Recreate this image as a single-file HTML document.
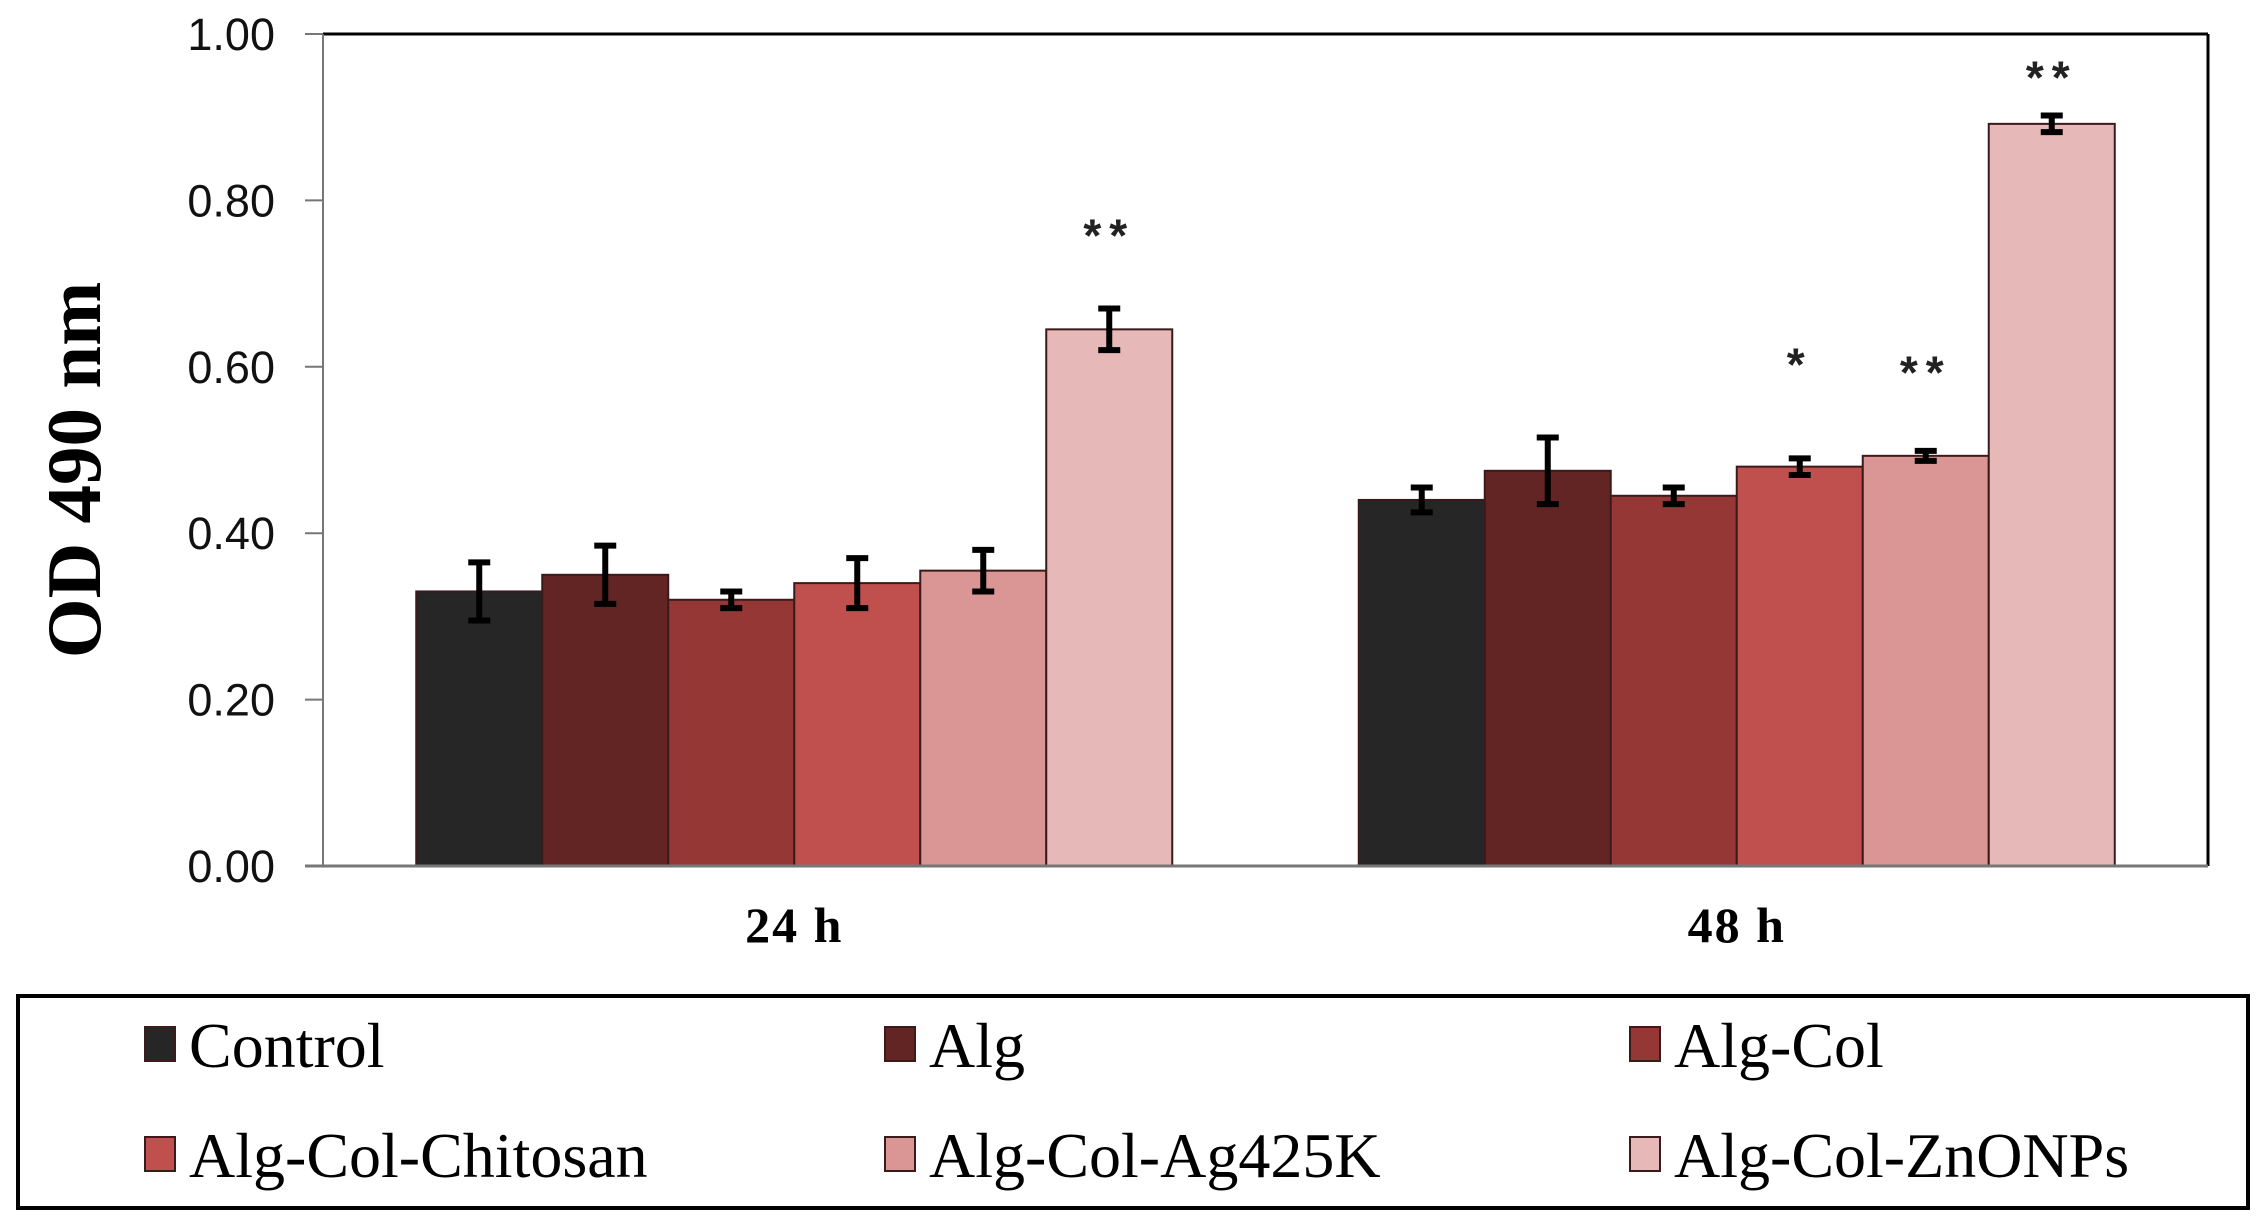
<!DOCTYPE html>
<html><head><meta charset="utf-8"><style>
html,body{margin:0;padding:0;background:#fff;}
svg{display:block;}
</style></head><body>
<svg id="chart" width="2267" height="1230" viewBox="0 0 2267 1230" xmlns="http://www.w3.org/2000/svg">
<g id="plot"></g>
</svg>
<script>
const categories = ["24 h", "48 h"];
const seriesNames = ["Control", "Alg", "Alg-Col", "Alg-Col-Chitosan", "Alg-Col-Ag425K", "Alg-Col-ZnONPs"];
const values24 = [0.33, 0.35, 0.32, 0.34, 0.355, 0.645];
const values48 = [0.44, 0.475, 0.445, 0.48, 0.493, 0.892];
const errors24 = [0.035, 0.035, 0.01, 0.03, 0.025, 0.025];
const errors48 = [0.015, 0.04, 0.01, 0.01, 0.006, 0.01];
const stars24 = ["", "", "", "", "", "**"];
const stars48 = ["", "", "", "*", "**", "**"];
const starLevel24 = [0, 0, 0, 0, 0, 0.77];
const starLevel48 = [0, 0, 0, 0.615, 0.605, 0.96];
const yTicks = [0, 0.2, 0.4, 0.6, 0.8, 1.0];
const yTickLabels = ["0.00", "0.20", "0.40", "0.60", "0.80", "1.00"];
const colors = ["#262626", "#632523", "#953735", "#c0504d", "#d99694", "#e6b9b8"];

const NS = "http://www.w3.org/2000/svg";
const svg = document.getElementById("plot");
const L = 323, R = 2208, T = 34, B = 866;
function y(v){ return B - v / 1.0 * (B - T); }
const catW = (R - L) / categories.length;
const barW = 126;
function x(ci, si){ return L + catW * ci + (catW - barW * 6) / 2 + si * barW; }
function el(tag, attrs, text){
  const e = document.createElementNS(NS, tag);
  for (const k in attrs) e.setAttribute(k, attrs[k]);
  if (text !== undefined) e.textContent = text;
  svg.appendChild(e);
  return e;
}
let e;
e = el("line", {x1:L, y1:T, x2:R, y2:T, stroke:"#000", "stroke-width":3});


e = el("line", {x1:R, y1:T, x2:R, y2:B, stroke:"#000", "stroke-width":3});


e = el("line", {x1:L, y1:T, x2:L, y2:B, stroke:"#777", "stroke-width":2});


yTicks.forEach((t, i) => {
  const tk = el("line", {x1:L-18, y1:y(t), x2:L, y2:y(t), stroke:"#777", "stroke-width":2});
  
  
  const lb = el("text", {x:275, y:y(t)+16, "text-anchor":"end", "font-family":"Liberation Sans, sans-serif", "font-size":45, fill:"#111"}, yTickLabels[i]);
  
  
});
const allVals = [values24, values48], allErr = [errors24, errors48], allStars = [stars24, stars48], allStarLv = [starLevel24, starLevel48];
categories.forEach((c, ci) => {
  seriesNames.forEach((s, si) => {
    const v = allVals[ci][si], er = allErr[ci][si];
    const bx = x(ci, si);
    const r = el("rect", {x:bx, y:y(v), width:barW, height:B - y(v), fill:colors[si], stroke:"#3a1a1a", "stroke-width":2});
    
    
    const cx = bx + barW / 2;
    const eb = el("path", {d:`M${cx},${y(v+er)}V${y(v-er)}M${cx-11},${y(v+er)}H${cx+11}M${cx-11},${y(v-er)}H${cx+11}`, stroke:"#000", "stroke-width":6, fill:"none"});
    
    
    if (allStars[ci][si]) {
      const st = el("text", {x:cx, y:y(allStarLv[ci][si]) + 26, "text-anchor":"middle", "font-family":"Liberation Sans, sans-serif", "font-weight":"bold", "font-size":46, "letter-spacing":"8", fill:"#222"}, allStars[ci][si]);
      
      
    }
  });
  const cl = el("text", {x:L + catW * ci + catW / 2, y:942, "text-anchor":"middle", "font-family":"Liberation Serif, serif", "font-weight":"bold", "font-size":50, "letter-spacing":"2", fill:"#000"}, c);
  
  
});
e = el("line", {x1:L-18, y1:B, x2:R, y2:B, stroke:"#777", "stroke-width":3});


e = el("text", {x:0, y:0, transform:"translate(100,470) rotate(-90)", "text-anchor":"middle", "font-family":"Liberation Serif, serif", "font-weight":"bold", "font-size":77, fill:"#000"}, "OD 490 nm");


e = el("rect", {x:18, y:996, width:2230, height:212, fill:"#fff", stroke:"#000", "stroke-width":4});


const legX = [145, 885, 1630], legY = [1045, 1155];
seriesNames.forEach((s, i) => {
  const lx = legX[i % 3], ly = legY[Math.floor(i / 3)];
  const sw = el("rect", {x:lx, y:ly - 18, width:30, height:34, fill:colors[i], stroke:"#3a1a1a", "stroke-width":2});
  
  
  const t = el("text", {x:lx + 44, y:ly + 22, "font-family":"Liberation Serif, serif", "font-size":64, fill:"#000"}, s);
  
  
});
</script>
</body></html>
